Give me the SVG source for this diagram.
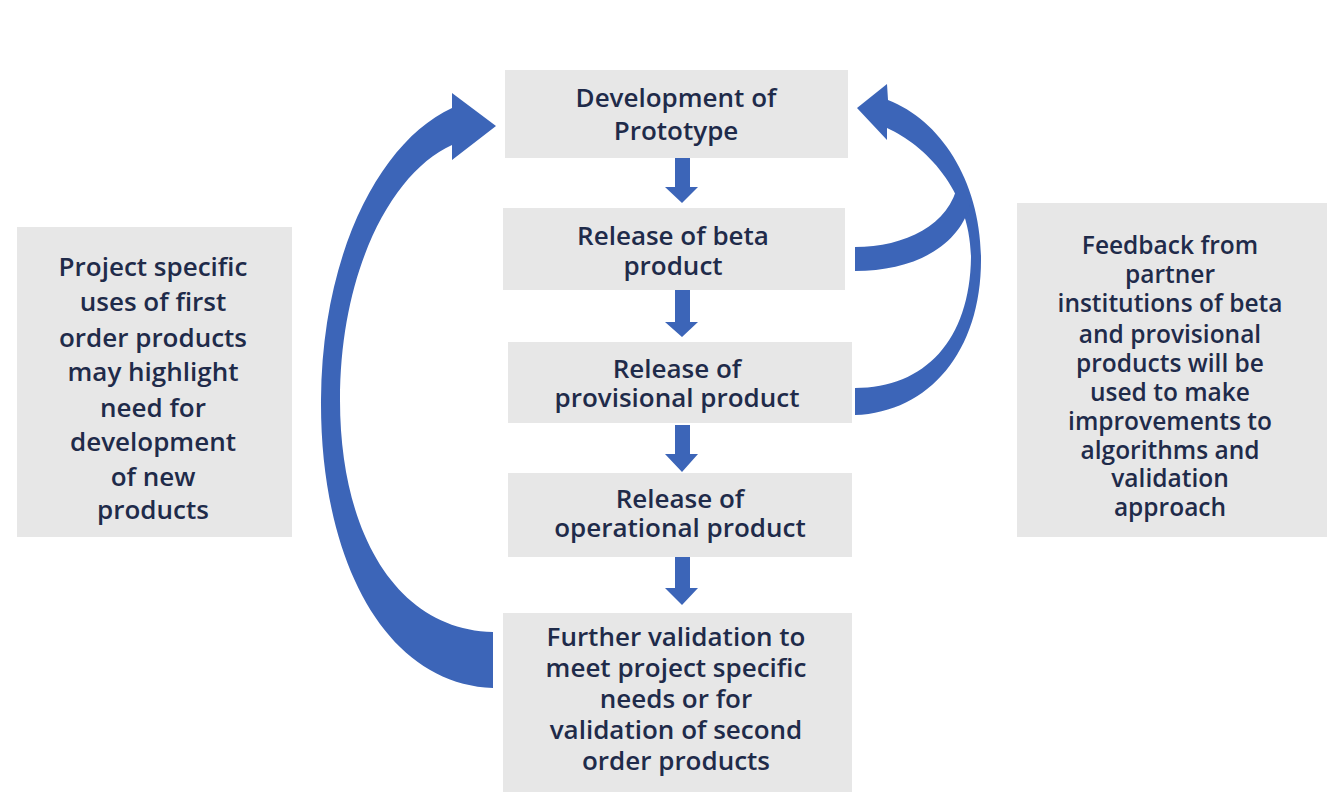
<svg xmlns="http://www.w3.org/2000/svg" width="1332" height="792" viewBox="0 0 1332 792">
<style>
.box{fill:#e7e7e7}
.t{font-family:"Open Sans","Liberation Sans",sans-serif;font-weight:600;font-size:26px;fill:#1f2b4a;text-anchor:middle}
.ts{font-size:24.5px}
.arr{fill:#3c65b8}
</style>
<rect width="1332" height="792" fill="#ffffff"/>
<g id="connectors">
<path class="arr" d="M675,158 H690 V187 H698 L682,203 L665,187 H675 Z"/>
<path class="arr" d="M675,290 H690 V322 H698 L682,337 L665,322 H675 Z"/>
<path class="arr" d="M675,425 H690 V454 H698 L682,472 L665,454 H675 Z"/>
<path class="arr" d="M675,557 H690 V588 H698 L682,605 L665,588 H675 Z"/>
<path id="left-loop" class="arr" d="M493,688 C385,684 320,560 321,400 C322,250 382,140 452,108 L452,93 L496,126 L452,160 L452,145 C392,172 340,270 340,400 C340,535 398,630 493,632 Z"/>
<path id="right-loop" class="arr" d="M855,415 C930,412 982,350 981,257 C980,180 940,120 888,100 L887,84 L857,108 L887,140 L887,128 C925,145 970,190 971,257 C970,340 925,388 855,388 Z"/>
<path id="right-loop-branch" class="arr" d="M855,247 C905,247 950,225 958,183 L970,205 C958,248 912,271 855,271 Z"/>
</g>
<g id="n1"><rect class="box" x="505" y="70" width="343" height="88"/>
<text class="t" x="676" y="107">Development of</text><text class="t" x="676" y="140">Prototype</text></g>
<g id="n2"><rect class="box" x="503" y="208" width="342" height="82"/>
<text class="t" x="673" y="245">Release of beta</text><text class="t" x="673" y="275">product</text></g>
<g id="n3"><rect class="box" x="508" y="342" width="344" height="81"/>
<text class="t" x="677" y="378">Release of</text><text class="t" x="677" y="407">provisional product</text></g>
<g id="n4"><rect class="box" x="508" y="473" width="344" height="84"/>
<text class="t" x="680" y="508">Release of</text><text class="t" x="680" y="537">operational product</text></g>
<g id="n5"><rect class="box" x="503" y="613" width="349" height="179"/>
<text class="t" x="676" y="646">Further validation to</text>
<text class="t" x="676" y="677">meet project specific</text>
<text class="t" x="676" y="708">needs or for</text>
<text class="t" x="676" y="739">validation of second</text>
<text class="t" x="676" y="770">order products</text></g>
<g id="left-note"><rect class="box" x="17" y="227" width="275" height="310"/>
<text class="t" x="153" y="276">Project specific</text>
<text class="t" x="153" y="311">uses of first</text>
<text class="t" x="153" y="347">order products</text>
<text class="t" x="153" y="381">may highlight</text>
<text class="t" x="153" y="417">need for</text>
<text class="t" x="153" y="451">development</text>
<text class="t" x="153" y="486">of new</text>
<text class="t" x="153" y="519">products</text></g>
<g id="right-note"><rect class="box" x="1017" y="203" width="310" height="334"/>
<text class="t ts" x="1170" y="254">Feedback from</text>
<text class="t ts" x="1170" y="283">partner</text>
<text class="t ts" x="1170" y="312">institutions of beta</text>
<text class="t ts" x="1170" y="343">and provisional</text>
<text class="t ts" x="1170" y="372">products will be</text>
<text class="t ts" x="1170" y="401">used to make</text>
<text class="t ts" x="1170" y="430">improvements to</text>
<text class="t ts" x="1170" y="459">algorithms and</text>
<text class="t ts" x="1170" y="487">validation</text>
<text class="t ts" x="1170" y="516">approach</text></g>
</svg>
